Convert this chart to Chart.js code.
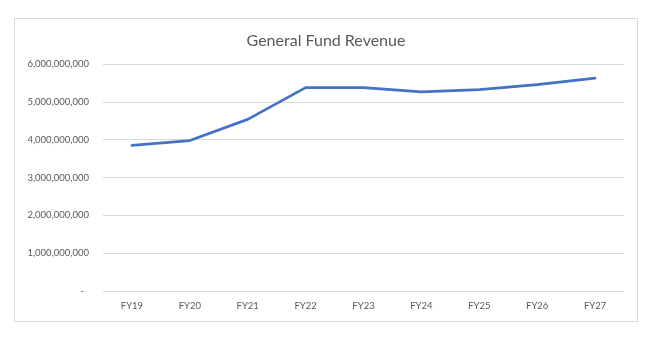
<!DOCTYPE html>
<html>
<head>
<meta charset="utf-8">
<script src="https://cdn.jsdelivr.net/npm/chart.js@4.4.0/dist/chart.umd.min.js"></script>
<style>
  body { margin: 0; background: #fff; }
  #box {
    position: absolute; left: 14px; top: 18px;
    width: 624px; height: 304px;
    box-sizing: border-box;
    border: 1px solid #d9d9d9;
    background: #fff;
  }
</style>
</head>
<body>
<div id="box"><canvas id="myChart" width="622" height="302"></canvas></div>
<script>
// fiscal years and revenue (dollars)
var years = ['FY19', 'FY20', 'FY21', 'FY22', 'FY23', 'FY24', 'FY25', 'FY26', 'FY27'];
var revenue = [3850000000, 3980000000, 4540000000, 5380000000, 5380000000, 5270000000, 5330000000, 5460000000, 5630000000];
var yTicks = [0, 1000000000, 2000000000, 3000000000, 4000000000, 5000000000, 6000000000];

var grey = '#595959';
var fontFamily = 'Lato, "Open Sans", sans-serif';

var ctx = document.getElementById('myChart').getContext('2d');
var myChart = new Chart(ctx, {
    type: 'line',
    data: {
        labels: years,
        datasets: [{
            label: 'General Fund Revenue',
            data: revenue,
            borderColor: '#4472C4',
            backgroundColor: '#4472C4',
            borderWidth: 2.75,
            pointRadius: 0,
            tension: 0,
            borderCapStyle: 'round',
            borderJoinStyle: 'round'
        }]
    },
    options: {
        responsive: false,
        animation: false,
        layout: { padding: 0 },
        plugins: {
            legend: { display: false },
            tooltip: { enabled: false },
            title: {
                display: true,
                text: 'General Fund Revenue',
                color: grey,
                font: { family: fontFamily, size: 16, weight: 'normal' },
                padding: { top: 12, bottom: 14 }
            }
        },
        scales: {
            x: {
                offset: true,
                grid: { display: false },
                border: { display: false },
                ticks: {
                    color: grey,
                    font: { family: fontFamily, size: 9.5 },
                    padding: 1
                },
                afterFit: function (scale) { scale.height = 30; }
            },
            y: {
                min: 0,
                max: 6000000000,
                afterBuildTicks: function (scale) {
                    scale.ticks = yTicks.map(function (v) { return { value: v }; });
                },
                grid: { color: '#d9d9d9', lineWidth: 1, drawTicks: false },
                border: { display: false },
                ticks: {
                    color: grey,
                    font: { family: fontFamily, size: 9.5 },
                    padding: 14,
                    callback: function (value) {
                        if (value === 0) return '-  ';
                        return value.toLocaleString('en-US');
                    }
                },
                afterFit: function (scale) { scale.width = 88; }
            },
            // empty axis on the right, only keeps a margin so the title stays centred on the whole box
            yRight: {
                position: 'right',
                grid: { display: false },
                border: { display: false },
                ticks: { display: false },
                afterFit: function (scale) { scale.width = 13; }
            }
        }
    }
});
</script>
</body>
</html>
